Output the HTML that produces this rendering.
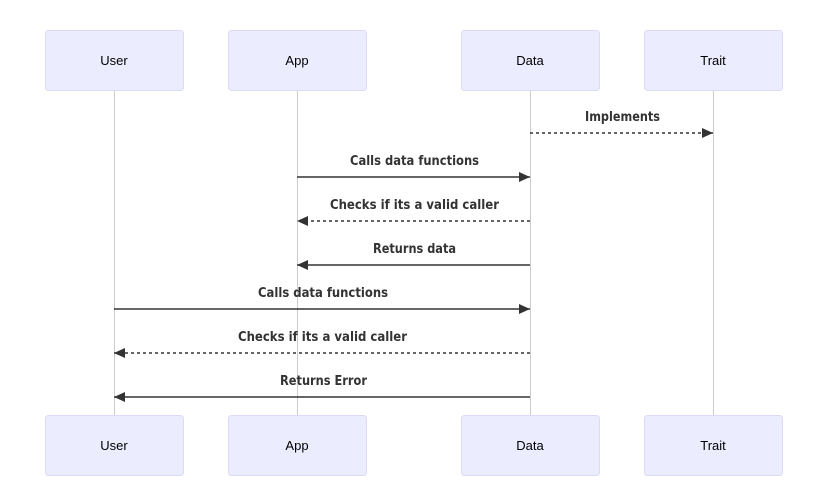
<!DOCTYPE html>
<html><head><meta charset="utf-8"><style>
html,body{margin:0;padding:0;background:#fff;width:828px;height:497px;overflow:hidden}
.a{font-family:"Liberation Sans",Arial,sans-serif;font-size:13px;fill:#000}
.m{font-family:"DejaVu Sans","Liberation Sans",sans-serif;font-size:13px;font-weight:bold;fill:#333}
</style></head><body>
<svg width="828" height="497" viewBox="0 0 828 497" xmlns="http://www.w3.org/2000/svg">
<defs>
<marker id="ar" markerWidth="12" markerHeight="12" refX="11" refY="5" orient="auto" markerUnits="userSpaceOnUse"><path d="M0,0 L11,5 L0,10 z" fill="#333"/></marker>
</defs>
<g stroke="#ccc" stroke-width="1">
<line x1="114.5" y1="90" x2="114.5" y2="415"/>
<line x1="297.5" y1="90" x2="297.5" y2="415"/>
<line x1="530.5" y1="90" x2="530.5" y2="415"/>
<line x1="713.5" y1="90" x2="713.5" y2="415"/>
</g>
<g fill="#ECECFF" stroke="#DCDAF8" stroke-width="1">
<rect x="45.5" y="30.5" width="138" height="60" rx="3"/>
<rect x="228.5" y="30.5" width="138" height="60" rx="3"/>
<rect x="461.5" y="30.5" width="138" height="60" rx="3"/>
<rect x="644.5" y="30.5" width="138" height="60" rx="3"/>
<rect x="45.5" y="415.5" width="138" height="60" rx="3"/>
<rect x="228.5" y="415.5" width="138" height="60" rx="3"/>
<rect x="461.5" y="415.5" width="138" height="60" rx="3"/>
<rect x="644.5" y="415.5" width="138" height="60" rx="3"/>
</g>
<g class="a" text-anchor="middle">
<text x="114" y="65">User</text><text x="297" y="65">App</text><text x="530" y="65">Data</text><text x="713" y="65">Trait</text>
<text x="114" y="450">User</text><text x="297" y="450">App</text><text x="530" y="450">Data</text><text x="713" y="450">Trait</text>
</g>
<g stroke="#333" stroke-width="1.5" fill="none" marker-end="url(#ar)">
<line x1="530" y1="133" x2="713" y2="133" stroke-dasharray="3,3"/>
<line x1="297" y1="177" x2="530" y2="177"/>
<line x1="530" y1="221" x2="297" y2="221" stroke-dasharray="3,3"/>
<line x1="530" y1="265" x2="297" y2="265"/>
<line x1="114" y1="309" x2="530" y2="309"/>
<line x1="530" y1="353" x2="114" y2="353" stroke-dasharray="3,3"/>
<line x1="530" y1="397" x2="114" y2="397"/>
</g>
<g class="m">
<text x="585" y="121" textLength="75" lengthAdjust="spacingAndGlyphs">Implements</text>
<text x="350" y="165" textLength="129" lengthAdjust="spacingAndGlyphs">Calls data functions</text>
<text x="330" y="209" textLength="169" lengthAdjust="spacingAndGlyphs">Checks if its a valid caller</text>
<text x="373" y="253" textLength="83" lengthAdjust="spacingAndGlyphs">Returns data</text>
<text x="258" y="297" textLength="130" lengthAdjust="spacingAndGlyphs">Calls data functions</text>
<text x="238" y="341" textLength="169" lengthAdjust="spacingAndGlyphs">Checks if its a valid caller</text>
<text x="280" y="385" textLength="87" lengthAdjust="spacingAndGlyphs">Returns Error</text>
</g>
</svg>
</body></html>
